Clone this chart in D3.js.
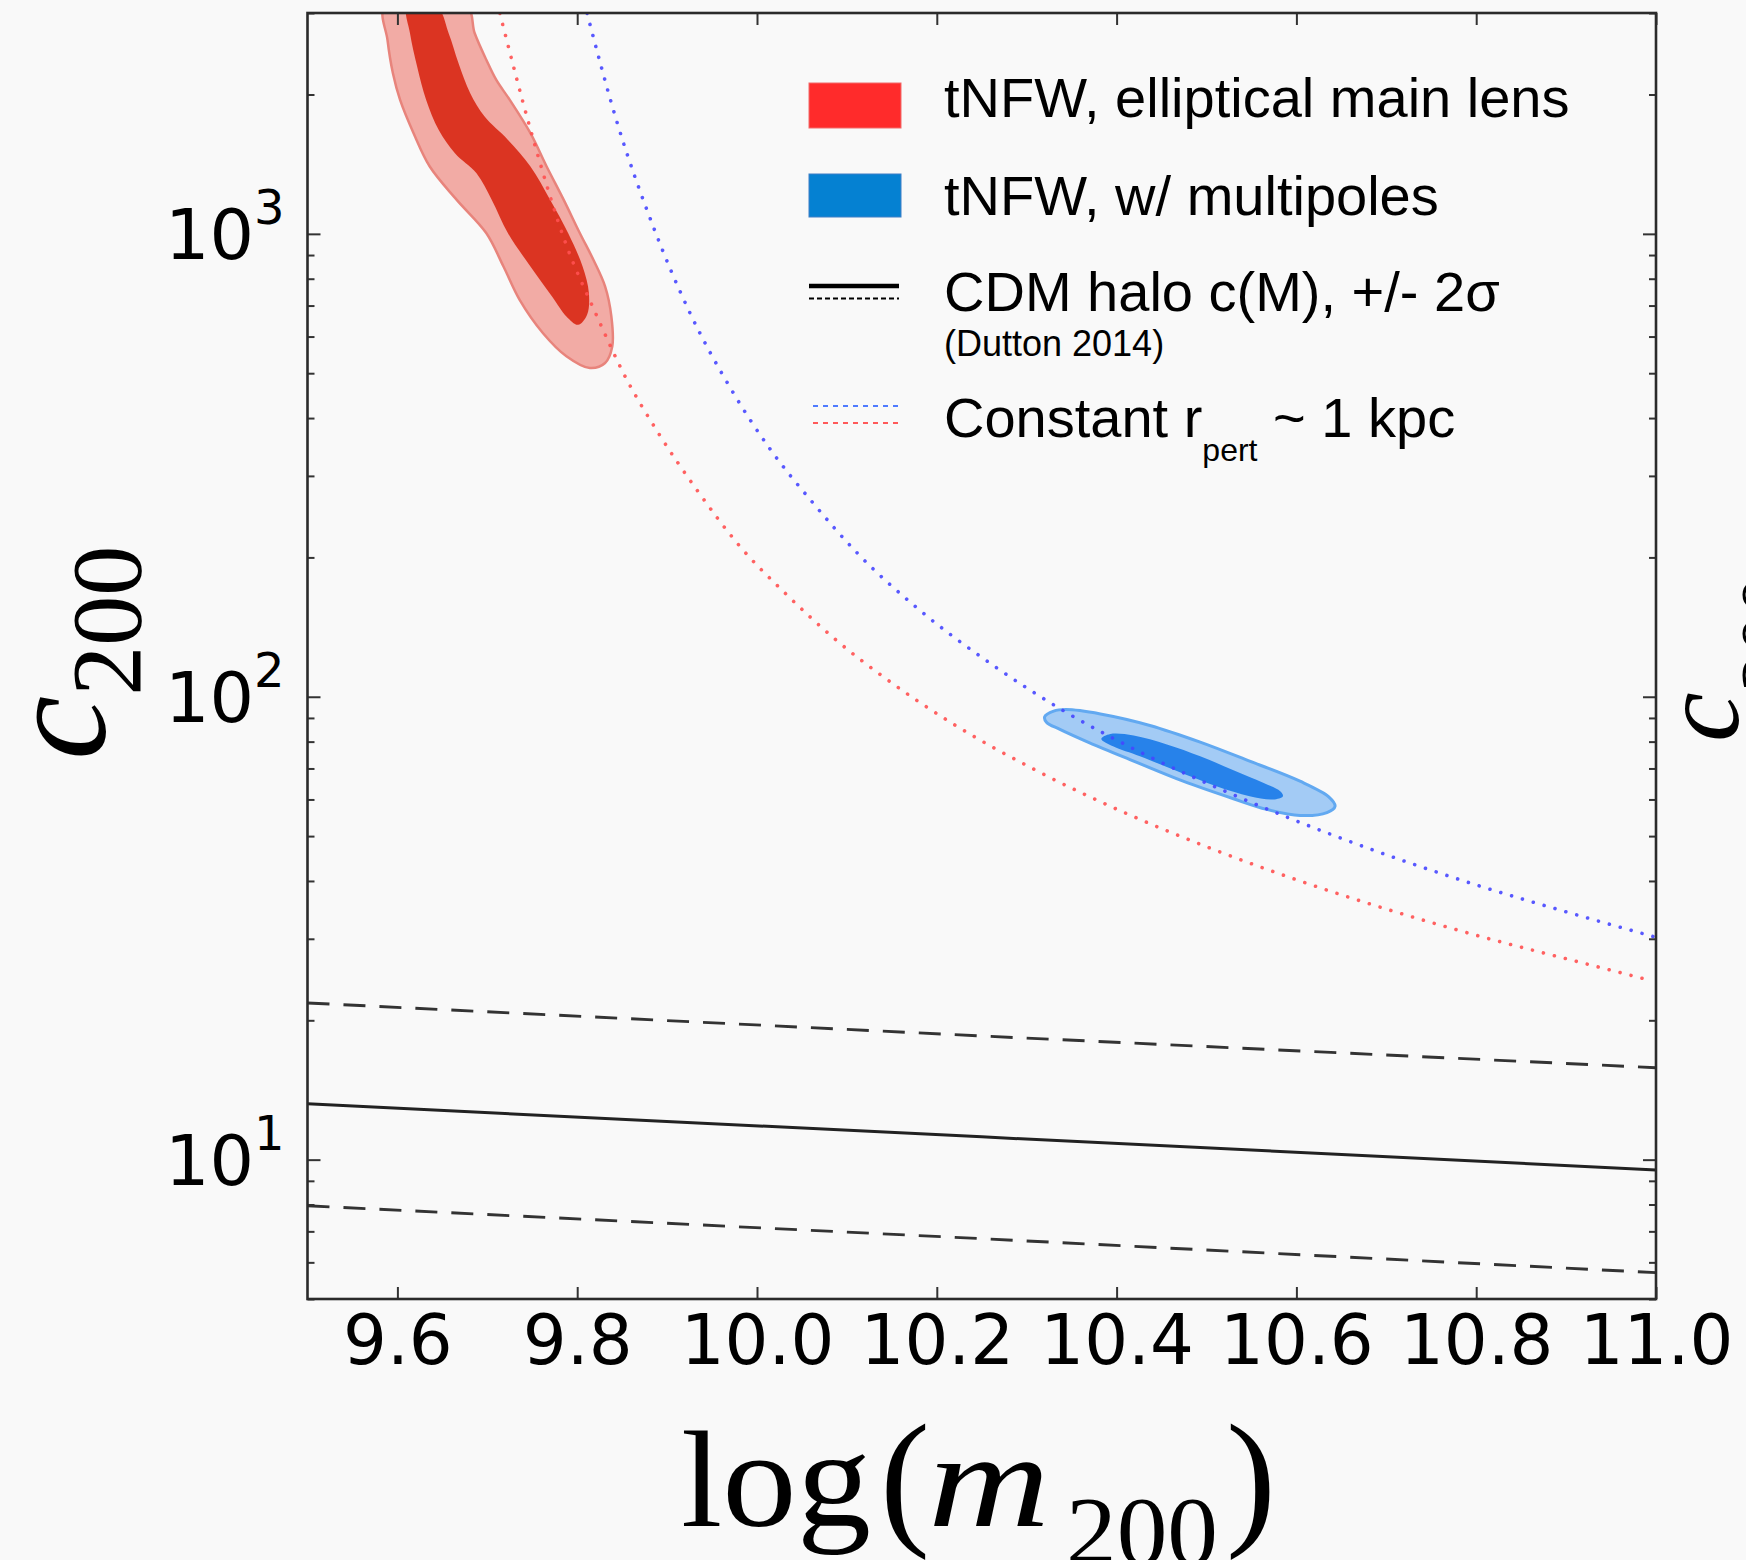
<!DOCTYPE html>
<html><head><meta charset="utf-8">
<script src="https://cdn.jsdelivr.net/npm/d3@7"></script>
<style>html,body{margin:0;padding:0;background:#f9f9f9;} svg{display:block}</style>
</head><body>
<svg id="chart" width="1746" height="1560"></svg>
<script>
// ---------- data ----------
const xDomain = [9.5, 11.0];
const yDomain = [5, 3000];
const xTicks = [9.6, 9.8, 10.0, 10.2, 10.4, 10.6, 10.8, 11.0];
const yMajorTicks = [10, 100, 1000];
const yMajorExponents = ["1", "2", "3"];
const yMinorTicks = [5,6,7,8,9,20,30,40,50,60,70,80,90,200,300,400,500,600,700,800,900,2000,3000];

// CDM halo c(M), Dutton 2014, median and +/- 2 sigma
const cdmLogM   = [9.5, 10.25, 11.0];
const cdmMedian = [13.2, 11.2, 9.5];
const cdmUpper  = [21.8, 18.5, 15.8];
const cdmLower  = [7.95, 6.75, 5.70];

// Constant r_pert ~ 1 kpc curves
const blueRpertLogM = [9.811, 9.844, 9.885, 9.924, 9.972, 10.014, 10.061, 10.113, 10.179, 10.263, 10.340, 10.433, 10.529, 10.653, 10.804, 10.907, 10.998];
const blueRpertC    = [2994, 1750, 1032, 684, 459, 344, 264, 203, 155, 116.8, 93.5, 74.8, 61.5, 49.2, 39.0, 34.0, 30.3];
const redRpertLogM  = [9.714, 9.748, 9.788, 9.820, 9.851, 9.890, 9.933, 9.979, 10.033, 10.090, 10.142, 10.218, 10.310, 10.406, 10.504, 10.604, 10.706, 10.809, 10.912, 10.990];
const redRpertC     = [2994, 1681, 945, 677, 502, 372, 280, 213.5, 166.2, 131.6, 109.9, 87.4, 69.4, 56.5, 47.1, 40.0, 34.5, 30.2, 26.8, 24.5];

// tNFW, elliptical main lens: 2-sigma (outer) and 1-sigma (inner) contours
const redOuterLogM = [9.586, 9.589, 9.595, 9.603, 9.618, 9.636, 9.666, 9.699, 9.718, 9.736, 9.762, 9.788, 9.814, 9.831, 9.839, 9.838, 9.831, 9.818, 9.803, 9.785, 9.766, 9.748, 9.725, 9.710, 9.699, 9.686, 9.677];
const redOuterC    = [3096, 2623, 2223, 1947, 1650, 1398, 1184, 1003, 850, 720, 610, 544, 513, 526, 571, 663, 770, 879, 1003, 1184, 1398, 1650, 1947, 2150, 2375, 2712, 3096];
const redInnerLogM = [9.611, 9.614, 9.622, 9.632, 9.646, 9.664, 9.688, 9.705, 9.723, 9.748, 9.772, 9.788, 9.801, 9.811, 9.813, 9.806, 9.790, 9.770, 9.748, 9.723, 9.697, 9.681, 9.668, 9.657, 9.644];
const redInnerC    = [3096, 2712, 2297, 1947, 1677, 1494, 1352, 1184, 1003, 850, 732, 663, 636, 669, 745, 850, 1003, 1184, 1398, 1596, 1792, 2012, 2336, 2712, 3096];

// tNFW, w/ multipoles: 2-sigma (outer) and 1-sigma (inner) contours
const blueOuterLogM = [10.320, 10.330, 10.344, 10.382, 10.437, 10.493, 10.548, 10.604, 10.636, 10.643, 10.634, 10.604, 10.567, 10.530, 10.474, 10.419, 10.370, 10.337, 10.322];
const blueOuterC    = [90.5, 93.1, 93.8, 91.8, 86.7, 79.8, 72.6, 65.7, 60.8, 58.0, 56.2, 55.4, 57.1, 60.2, 65.7, 72.6, 79.5, 85.0, 88.1];
const blueInnerLogM = [10.383, 10.393, 10.419, 10.456, 10.493, 10.530, 10.563, 10.582, 10.585, 10.574, 10.548, 10.511, 10.467, 10.426, 10.396];
const blueInnerC    = [81.1, 83.1, 82.5, 78.9, 74.4, 69.4, 65.2, 62.5, 61.0, 60.0, 61.0, 64.1, 69.1, 74.4, 78.2];

// ---------- layout ----------
const W = 1746, H = 1560;
const L = 307.5, R = 1656, T = 13, B = 1299;
const x = d3.scaleLinear().domain(xDomain).range([L, R]);
const y = d3.scaleLog().domain(yDomain).range([B, T]);
const zip = (a, b) => a.map((v, i) => [v, b[i]]);

const svg = d3.select("#chart");
svg.append("rect").attr("width", W).attr("height", H).attr("fill", "#f9f9f9");
svg.append("defs").append("clipPath").attr("id", "plotclip")
  .append("rect").attr("x", L).attr("y", T).attr("width", R - L).attr("height", B - T);
const plot = svg.append("g").attr("clip-path", "url(#plotclip)");

const closed = d3.line().x(d => x(d[0])).y(d => y(d[1])).curve(d3.curveCatmullRomClosed.alpha(0.5));
const smooth = d3.line().x(d => x(d[0])).y(d => y(d[1])).curve(d3.curveMonotoneX);
const straight = d3.line().x(d => x(d[0])).y(d => y(d[1]));

// contours
plot.append("path").attr("d", closed(zip(redOuterLogM, redOuterC)))
  .attr("fill", "#f2aba5").attr("stroke", "#e8847c").attr("stroke-width", 2.5);
plot.append("path").attr("d", closed(zip(redInnerLogM, redInnerC)))
  .attr("fill", "#db3422");
plot.append("path").attr("d", closed(zip(blueOuterLogM, blueOuterC)))
  .attr("fill", "#a3cbf5").attr("stroke", "#62a9f1").attr("stroke-width", 3);
plot.append("path").attr("d", closed(zip(blueInnerLogM, blueInnerC)))
  .attr("fill", "#2782ea");

// constant r_pert dotted curves
plot.append("path").attr("d", smooth(zip(redRpertLogM, redRpertC)))
  .attr("fill", "none").attr("stroke", "#ff5050").attr("stroke-opacity", 0.9)
  .attr("stroke-width", 3.6).attr("stroke-linecap", "round").attr("stroke-dasharray", "0.01 11.3");
plot.append("path").attr("d", smooth(zip(blueRpertLogM, blueRpertC)))
  .attr("fill", "none").attr("stroke", "#4646ff").attr("stroke-opacity", 0.9)
  .attr("stroke-width", 3.6).attr("stroke-linecap", "round").attr("stroke-dasharray", "0.01 11.3");

// CDM lines
plot.append("path").attr("d", straight(zip(cdmLogM, cdmMedian)))
  .attr("fill", "none").attr("stroke", "#222").attr("stroke-width", 3);
[cdmUpper, cdmLower].forEach(arr => {
  plot.append("path").attr("d", straight(zip(cdmLogM, arr)))
    .attr("fill", "none").attr("stroke", "#333").attr("stroke-width", 2.9)
    .attr("stroke-dasharray", "22 14");
});

// ---------- axes ----------
const tickColor = "#333";
const gxb = svg.append("g").attr("transform", `translate(0,${B})`)
  .call(d3.axisBottom(x).tickValues(xTicks).tickFormat(d3.format(".1f"))
    .tickSizeInner(-12).tickSizeOuter(0).tickPadding(16));
gxb.select(".domain").remove();
gxb.selectAll("line").attr("stroke", tickColor).attr("stroke-width", 2);
gxb.selectAll("text").attr("font-family", "DejaVu Sans").attr("font-size", 69).attr("fill", "#000");

const gxt = svg.append("g").attr("transform", `translate(0,${T})`)
  .call(d3.axisTop(x).tickValues(xTicks).tickFormat("").tickSizeInner(-12).tickSizeOuter(0));
gxt.select(".domain").remove();
gxt.selectAll("line").attr("stroke", tickColor).attr("stroke-width", 2);

const yAll = yMinorTicks.concat(yMajorTicks);
const gyl = svg.append("g").attr("transform", `translate(${L},0)`)
  .call(d3.axisLeft(y).tickValues(yAll).tickFormat("").tickSizeInner(-7).tickSizeOuter(0));
gyl.select(".domain").remove();
gyl.selectAll(".tick line").attr("stroke", tickColor).attr("stroke-width", 2)
  .attr("x2", d => yMajorTicks.includes(d) ? 13 : 7);
const gyr = svg.append("g").attr("transform", `translate(${R},0)`)
  .call(d3.axisRight(y).tickValues(yAll).tickFormat("").tickSizeInner(-7).tickSizeOuter(0));
gyr.select(".domain").remove();
gyr.selectAll(".tick line").attr("stroke", tickColor).attr("stroke-width", 2)
  .attr("x2", d => yMajorTicks.includes(d) ? -13 : -7);

// y major labels 10^n
yMajorTicks.forEach((v, i) => {
  const t = svg.append("text").attr("x", L - 23).attr("y", y(v) + 25)
    .attr("text-anchor", "end").attr("font-family", "DejaVu Sans").attr("fill", "#000");
  t.append("tspan").attr("font-size", 70).text("10");
  t.append("tspan").attr("font-size", 48).attr("dy", -35).text(yMajorExponents[i]);
});

// frame
svg.append("rect").attr("x", L).attr("y", T).attr("width", R - L).attr("height", B - T)
  .attr("fill", "none").attr("stroke", "#2b2b2b").attr("stroke-width", 2.6);

// axis labels
const serif = "Liberation Serif";
svg.append("text").attr("x", 681).attr("y", 1526).attr("font-family", serif).attr("font-size", 138)
  .attr("textLength", 190).attr("lengthAdjust", "spacingAndGlyphs").text("log");
svg.append("text").attr("x", 880).attr("y", 1528).attr("font-family", serif).attr("font-size", 150).text("(");
svg.append("text").attr("x", 928).attr("y", 1526).attr("font-family", serif).attr("font-size", 136)
  .attr("font-style", "italic").attr("textLength", 122).attr("lengthAdjust", "spacingAndGlyphs").text("m");
svg.append("text").attr("x", 1066).attr("y", 1564).attr("font-family", serif).attr("font-size", 98)
  .attr("textLength", 152).attr("lengthAdjust", "spacingAndGlyphs").text("200");
svg.append("text").attr("x", 1226).attr("y", 1528).attr("font-family", serif).attr("font-size", 150).text(")");

const yl = svg.append("text").attr("transform", "translate(105,760) rotate(-90)")
  .attr("font-family", serif).attr("fill", "#000");
yl.append("tspan").attr("font-size", 145).attr("font-style", "italic").text("c");
yl.append("tspan").attr("font-size", 100).attr("dy", 35).text("200");

// neighbouring panel's label, cut by the edge
const yl2 = svg.append("text").attr("transform", "translate(1738,742) rotate(-90)")
  .attr("font-family", serif).attr("fill", "#000");
yl2.append("tspan").attr("font-size", 112).attr("font-style", "italic").text("c");
yl2.append("tspan").attr("font-size", 78).attr("dy", 56).text("200");

// ---------- legend ----------
const lg = svg.append("g");
lg.append("rect").attr("x", 809).attr("y", 83).attr("width", 92).attr("height", 45)
  .attr("fill", "#ff2b2b").attr("stroke", "#f26a6a").attr("stroke-width", 1);
lg.append("rect").attr("x", 809).attr("y", 174).attr("width", 92).attr("height", 43)
  .attr("fill", "#0581d2").attr("stroke", "#3f7fc6").attr("stroke-width", 1);
lg.append("line").attr("x1", 809).attr("x2", 899).attr("y1", 286).attr("y2", 286)
  .attr("stroke", "#000").attr("stroke-width", 4.5);
lg.append("line").attr("x1", 809).attr("x2", 899).attr("y1", 298.5).attr("y2", 298.5)
  .attr("stroke", "#000").attr("stroke-width", 1.8).attr("stroke-dasharray", "5 3");
lg.append("line").attr("x1", 813).attr("x2", 900).attr("y1", 406).attr("y2", 406)
  .attr("stroke", "#4f7bff").attr("stroke-width", 1.8).attr("stroke-dasharray", "5 5");
lg.append("line").attr("x1", 813).attr("x2", 900).attr("y1", 423).attr("y2", 423)
  .attr("stroke", "#ff5a5a").attr("stroke-width", 1.8).attr("stroke-dasharray", "5 5");

const lf = "Liberation Sans";
lg.append("text").attr("x", 944).attr("y", 117).attr("font-family", lf).attr("font-size", 56).text("tNFW, elliptical main lens");
lg.append("text").attr("x", 944).attr("y", 215).attr("font-family", lf).attr("font-size", 56).text("tNFW, w/ multipoles");
lg.append("text").attr("x", 944).attr("y", 311).attr("font-family", lf).attr("font-size", 56).text("CDM halo c(M), +/- 2σ");
lg.append("text").attr("x", 944).attr("y", 356).attr("font-family", lf).attr("font-size", 36).text("(Dutton 2014)");
const lt = lg.append("text").attr("x", 944).attr("y", 437).attr("font-family", lf).attr("font-size", 56);
lt.append("tspan").text("Constant r");
lt.append("tspan").attr("font-size", 32).attr("dy", 24).text("pert");
lt.append("tspan").attr("dy", -24).text(" ~ 1 kpc");
</script>
</body></html>
